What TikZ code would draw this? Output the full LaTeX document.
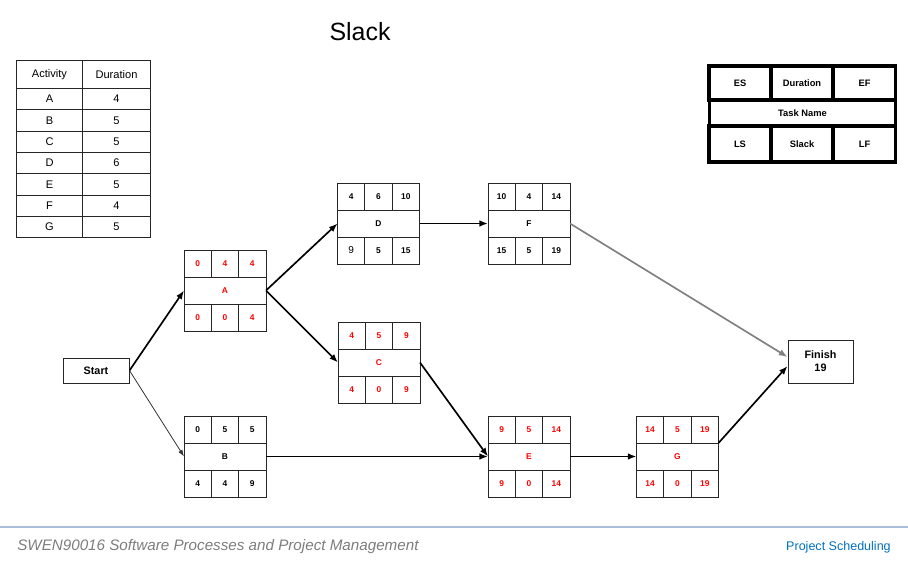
\documentclass[tikz,border=0pt]{standalone}
\usepackage{fontspec}
\setmainfont{Liberation Sans}
\usetikzlibrary{arrows.meta,positioning}

\definecolor{footblue}{RGB}{0,112,192}
\definecolor{footline}{RGB}{170,190,215}
\definecolor{footgray}{RGB}{125,125,125}

\tikzset{
  cell/.style={draw=black!85,line width=0.75pt,minimum width=20.5pt,minimum height=20.25pt,
    inner sep=0pt,outer sep=0pt,font=\fontsize{6.3}{7}\selectfont\bfseries},
  namecell/.style={cell,minimum width=61.5pt},
  tabcell/.style={draw=black!85,line width=0.75pt,minimum height=16pt,inner sep=0pt,
    anchor=north west,font=\fontsize{8.3}{10}\selectfont},
  keycell/.style={draw,line width=2.4pt,inner sep=0pt,font=\fontsize{7}{8}\selectfont\bfseries},
  endbox/.style={draw=black!85,line width=0.75pt,inner sep=0pt,align=center,
    font=\fontsize{8.1}{9.6}\selectfont\bfseries},
  link/.style={-{Latex[length=6.5pt,width=5pt]},line width=1.25pt},
}

% task box: name, centre of middle row, colour, ES, Dur, EF, LS, Slack, LF
\newcommand{\tasknode}[9]{%
  \node[namecell,text=#3] (#1) at #2 {#1};
  \node[cell,text=#3,anchor=south west] (#1-es) at (#1.north west) {#4};
  \node[cell,text=#3,right=0pt of #1-es] (#1-dur) {#5};
  \node[cell,text=#3,right=0pt of #1-dur] (#1-ef) {#6};
  \node[cell,text=#3,anchor=north west] (#1-ls) at (#1.south west) {#7};
  \node[cell,text=#3,right=0pt of #1-ls] (#1-sl) {#8};
  \node[cell,text=#3,right=0pt of #1-sl] (#1-lf) {#9};
}

\begin{document}
\begin{tikzpicture}[x=0.75pt,y=-0.75pt]
  \useasboundingbox (0,0) rectangle (908,569);

  \node[font=\fontsize{18.7}{22}\selectfont] (title) at (360,32) {Slack};

% activity table
  \node[tabcell,minimum width=49.5pt,minimum height=21pt] (act-h) at (16,60) {Activity};
  \node[tabcell,minimum width=51pt,minimum height=21pt] (dur-h) at (82,60) {Duration};
  \foreach \act/\dur [count=\i] in {A/4,B/5,C/5,D/6,E/5,F/4,G/5} {
    \node[tabcell,minimum width=49.5pt] (act-\i) at (16,{88+21.3*(\i-1)}) {\act};
    \node[tabcell,minimum width=51pt] (dur-\i) at (82,{88+21.3*(\i-1)}) {\dur};
  }

% key
  \node[keycell,minimum width=46.5pt,minimum height=25.5pt] (key-es) at (740,83) {ES};
  \node[keycell,minimum width=46.5pt,minimum height=25.5pt] (key-dur) at (802,83) {Duration};
  \node[keycell,minimum width=47pt,minimum height=25.5pt] (key-ef) at (864.5,83) {EF};
  \node[keycell,minimum width=140pt,minimum height=19.5pt] (key-name) at (802.5,113) {Task Name};
  \node[keycell,minimum width=46.5pt,minimum height=27pt] (key-ls) at (740,144) {LS};
  \node[keycell,minimum width=46.5pt,minimum height=27pt] (key-sl) at (802,144) {Slack};
  \node[keycell,minimum width=47pt,minimum height=27pt] (key-lf) at (864.5,144) {LF};

% network
  \node[endbox,minimum width=49.5pt,minimum height=18.75pt] (Start) at (96,370.5) {Start};
  \node[endbox,minimum width=48.75pt,minimum height=32.25pt] (Finish) at (820.5,361.5) {Finish\\19};

  \tasknode{A}{(225,290.5)}{red}{0}{4}{4}{0}{0}{4}
  \tasknode{B}{(225,456.5)}{black}{0}{5}{5}{4}{4}{9}
  \tasknode{C}{(379,362.5)}{red}{4}{5}{9}{4}{0}{9}
  \tasknode{D}{(378.5,223.5)}{black}{4}{6}{10}{{\mdseries\fontsize{7.5}{8}\selectfont 9}}{5}{15}
  \tasknode{E}{(529,456.5)}{red}{9}{5}{14}{9}{0}{14}
  \tasknode{F}{(529,223.5)}{black}{10}{4}{14}{15}{5}{19}
  \tasknode{G}{(677.5,456.5)}{red}{14}{5}{19}{14}{0}{19}

  \draw[link] (Start.east) -- (A.west);
  \draw[-{Latex[length=5pt,width=3.5pt]},line width=0.6pt,draw=black!80] (Start.east) -- (B.west);
  \draw[link] (A.east) -- (D.west);
  \draw[link] (A.east) -- (C.west);
  \draw[link] (D.east) -- (F.west);
  \draw[link] (C.east) -- (E.west);
  \draw[link] (B.east) -- (E.west);
  \draw[link] (E.east) -- (G.west);
  \draw[link] (G.north east) -- ([yshift=-3.4pt]Finish.west);
  \draw[link,draw=gray] (F.east) -- ([yshift=3.4pt]Finish.west);

% footer
  \draw[footline,line width=0.8pt] (0,527) -- (908,527);
  \node[anchor=west,inner sep=0pt,text=footgray,font=\fontsize{11.4}{13}\selectfont\itshape] (course) at (17,547)
    {SWEN90016 Software Processes and Project Management};
  \node[anchor=east,inner sep=0pt,text=footblue,font=\fontsize{9.4}{11}\selectfont] (topic) at (891,547)
    {Project Scheduling};
\end{tikzpicture}
\end{document}
